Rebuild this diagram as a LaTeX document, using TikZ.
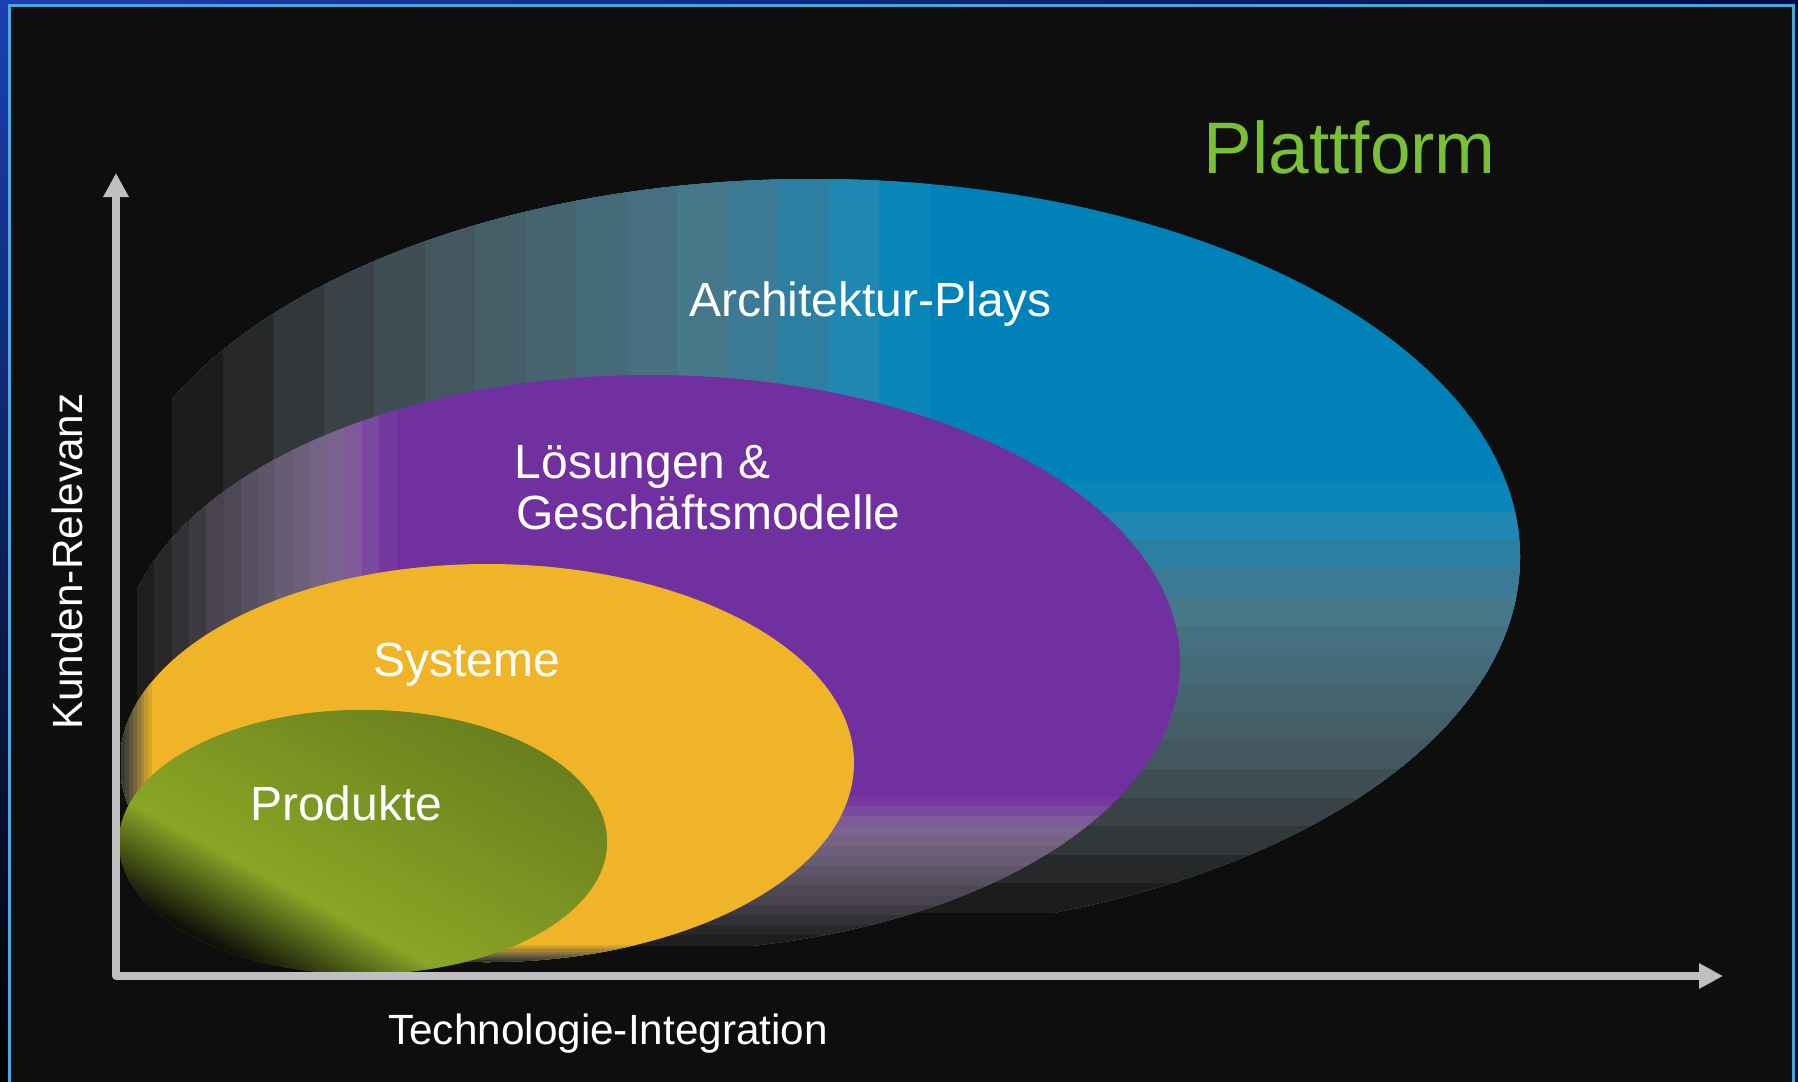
\documentclass[tikz,border=0pt]{standalone}
\usepackage{fontspec}
\setmainfont{Liberation Sans}
\usetikzlibrary{arrows.meta}
\definecolor{bgdark}{HTML}{0E0E0E}
\definecolor{frameline}{HTML}{48A8D8}
\definecolor{frameblueA}{HTML}{1C3FB4}
\definecolor{frameblueB}{HTML}{050A45}
\definecolor{axisgray}{HTML}{C0C0C0}
\definecolor{plattgreen}{HTML}{7AC034}
\definecolor{archblue}{HTML}{0082B8}
\definecolor{loespurple}{HTML}{7030A0}
\definecolor{sysyellow}{HTML}{F0B428}
\definecolor{prodbright}{HTML}{8AA626}
\definecolor{prodolive}{HTML}{687C1E}
\definecolor{proddark}{HTML}{0E0F08}
\tikzset{
  textlabel/.style={text=white, inner sep=0pt, anchor=base west, font=\fontsize{48}{51}\selectfont},
  axislabel/.style={text=white, inner sep=0pt, anchor=base west, font=\fontsize{42.3}{46}\selectfont},
  axisline/.style={draw=axisgray, line width=7.5pt, line join=round,
    {Triangle[length=24pt,width=24pt]}-{Triangle[length=24pt,width=24pt]}},
}
\begin{document}
\begin{tikzpicture}[x=1pt,y=-1pt]
\useasboundingbox (0,0) rectangle (1798,1081);
% outer frame
\shade[left color=frameblueA, right color=frameblueB] (0,0) rectangle (1798,1081);
\shade[top color=frameblueA, bottom color=black] (0,0) rectangle (9,1081);
\draw[frameline, line width=3pt, fill=bgdark] (9,6) rectangle (1793.5,1095);

% Architektur-Plays (blue)
\begin{scope}
\clip (172,0) rectangle (1700,912);
\clip (814,557) ellipse [x radius=706pt, y radius=378pt];
\fill[archblue] (100,100) rectangle (1700,1000);
\foreach \k/\c in {14/0A87B8,13/1F87B2,12/2C7FA0,11/3C7A95,10/457888,9/466F80,8/456A78,7/466570,6/455F69,5/43575F,4/3F4D54,3/3A4248,2/32373A,1/262829,0/1B1C1C} {
  \definecolor{bandc}{HTML}{\c}
  \fill[bandc] (100,100) rectangle ({172+(\k+1)*50.5},1000);
  \fill[bandc] (100,{912-(\k+1)*28.6}) rectangle (1700,1000);
}
\end{scope}

% Loesungen (purple)
\begin{scope}
\clip (137,0) rectangle (1700,945);
\clip (650,663) ellipse [x radius=530pt, y radius=288pt];
\fill[loespurple] (100,100) rectangle (1700,1000);
\foreach \k/\c in {14/7438A0,13/7A4AA0,12/7F5A98,11/7C628F,10/756384,9/6E607B,8/685C74,7/5F5569,6/575060,5/4E4856,4/48434E,3/3D3A42,2/333136,1/28272A,0/1E1E1E} {
  \definecolor{bandc}{HTML}{\c}
  \fill[bandc] (100,100) rectangle ({137+(\k+1)*17.3},1000);
  \fill[bandc] (100,{945-(\k+1)*9.9}) rectangle (1700,1000);
}
\end{scope}

% Systeme (yellow)
\begin{scope}
\clip (121,0) rectangle (1700,962);
\clip (487,763) ellipse [x radius=367pt, y radius=199pt];
\fill[sysyellow] (100,100) rectangle (1700,1000);
\foreach \k/\c in {7/D8A62B,6/C0962F,5/A88634,4/907638,3/786638,2/625638,1/4C4638,0/3A3835} {
  \definecolor{bandc}{HTML}{\c}
  \fill[bandc] (100,100) rectangle ({121+(\k+1)*3.9},1000);
  \fill[bandc] (100,{962-(\k+1)*2.1}) rectangle (1700,1000);
}
\end{scope}

% Produkte (green)
\begin{scope}
\clip (363,842) ellipse [x radius=244pt, y radius=132pt];
\fill[prodolive] (100,600) rectangle (700,1000);
\begin{scope}[shift={(123,797)}, rotate=-28.4]
\foreach \d in {-260,-250,...,-10} {
  \pgfmathsetmacro\p{(\d+260)/2.6}
  \fill[prodbright!\p!prodolive] (-300,\d) rectangle (800,\d+10.6);
}
\foreach \d in {0,3,...,140} {
  \pgfmathsetmacro\p{max(0,100-\d/0.85)}
  \fill[prodbright!\p!proddark] (-300,\d) rectangle (800,\d+3.6);
}
\end{scope}
\end{scope}

% texts
\node[text=plattgreen, inner sep=0pt, anchor=base west, font=\fontsize{73}{80}\selectfont] (platt) at (1203.5,173) {Plattform};
\node[textlabel] (arch) at (689,316) {Architektur-Plays};
\node[textlabel] (loes1) at (514.5,478) {Lösungen \&};
\node[textlabel] (loes2) at (516,529) {Geschäftsmodelle};
\node[textlabel] (sys) at (373,676) {Systeme};
\node[textlabel] (prod) at (250,820) {Produkte};
\node[axislabel] (tech) at (388,1044) {Technologie-Integration};
\node[axislabel, rotate=90] (kunden) at (82,730) {Kunden-Relevanz};

% axes
\coordinate (origin) at (116,976);
\coordinate (ytip) at (116,173);
\coordinate (xtip) at (1723,976);
\draw[axisline] (ytip) -- (origin) -- (xtip);
\end{tikzpicture}
\end{document}
